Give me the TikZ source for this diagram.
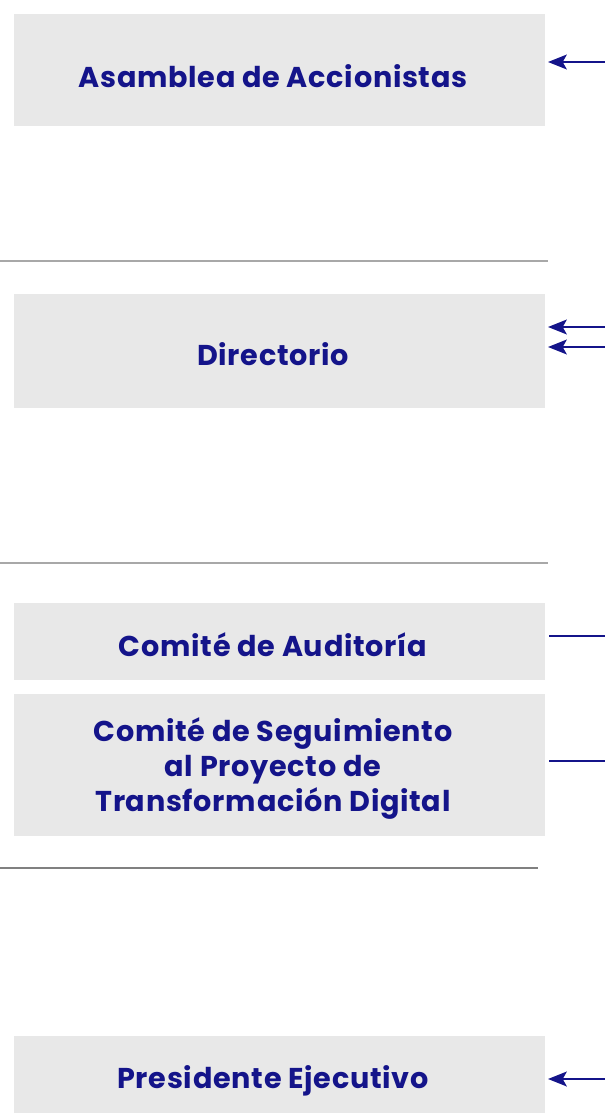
\documentclass[tikz,border=0pt]{standalone}
\usepackage{fontspec}
\setmainfont{Poppins}[BoldFont={Poppins Bold},BoldFeatures={LetterSpace=2.5}]
\usetikzlibrary{arrows.meta}
\definecolor{boxgray}{HTML}{E8E8E8}
\definecolor{navy}{HTML}{14148A}
\definecolor{rule}{HTML}{A8A8A8}
\begin{document}
\begin{tikzpicture}[x=0.75pt,y=-0.75pt,
  panel/.style={fill=boxgray,draw=none},
  label/.style={text=navy,font=\fontsize{21.5}{26.25}\selectfont\bfseries,align=center,inner sep=0pt},
  sep/.style={draw=rule,line width=1.1pt},
  link/.style={draw=navy,line width=2.2pt},
  inarrow/.style={link,-{Stealth[length=14pt,width=11pt,inset=3pt]}}]
\useasboundingbox (0,0) rectangle (605,1113);
% panels
\fill[panel] (14,14) rectangle (545,126);
\fill[panel] (14,294) rectangle (545,408);
\fill[panel] (14,603) rectangle (545,680);
\fill[panel] (14,694) rectangle (545,836);
\fill[panel] (14,1036) rectangle (545,1113);
% labels
\node[label] (asam) at (273,76) {Asamblea de Accionistas};
\node[label] (dir) at (273,354) {Directorio};
\node[label] (aud) at (273,645) {Comité de Auditoría};
\node[label] (seg) at (273,768) {Comité de Seguimiento\\al Proyecto de\\Transformación Digital};
\node[label] (pres) at (273,1081) {Presidente Ejecutivo};
% separators
\coordinate (s1a) at (0,261); \coordinate (s1b) at (548,261);
\coordinate (s2a) at (0,563); \coordinate (s2b) at (548,563);
\coordinate (s3a) at (0,868); \coordinate (s3b) at (538,868);
\draw[sep] (s1a) -- (s1b);
\draw[sep] (s2a) -- (s2b);
\draw[sep,draw=gray] (s3a) -- (s3b);
% connectors
\coordinate (a1s) at (605,62); \coordinate (a1e) at (548,62);
\coordinate (a2s) at (605,327); \coordinate (a2e) at (548,327);
\coordinate (a3s) at (605,347); \coordinate (a3e) at (548,347);
\coordinate (a4s) at (605,636); \coordinate (a4e) at (549,636);
\coordinate (a5s) at (605,761); \coordinate (a5e) at (549,761);
\coordinate (a6s) at (605,1079); \coordinate (a6e) at (548,1079);
\draw[inarrow] (a1s) -- (a1e);
\draw[inarrow] (a2s) -- (a2e);
\draw[inarrow] (a3s) -- (a3e);
\draw[link] (a4s) -- (a4e);
\draw[link] (a5s) -- (a5e);
\draw[inarrow] (a6s) -- (a6e);
\end{tikzpicture}
\end{document}
